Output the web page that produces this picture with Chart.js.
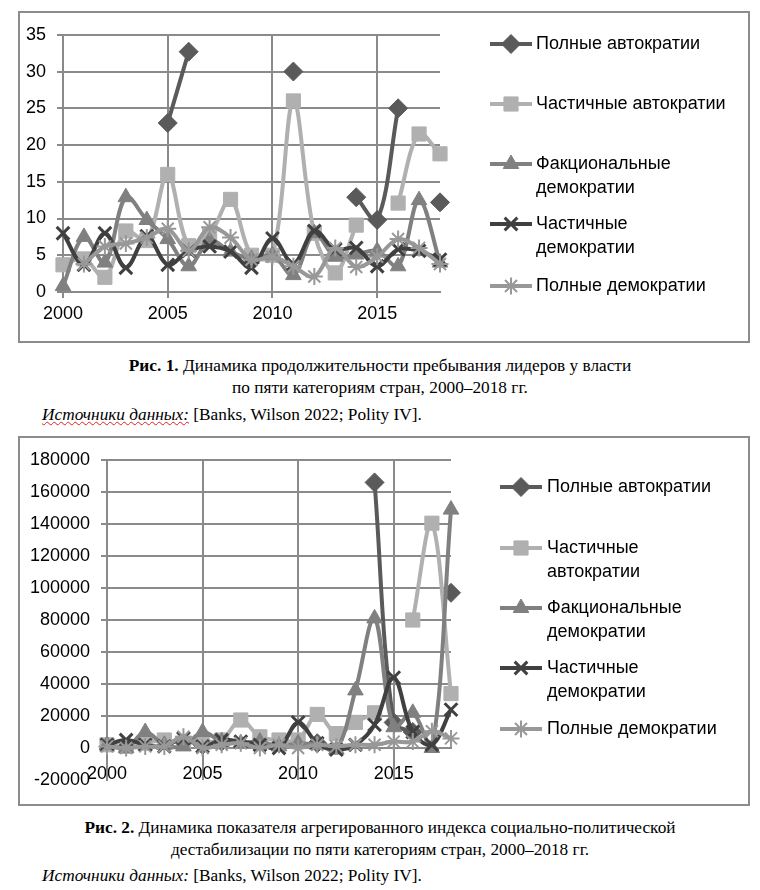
<!DOCTYPE html>
<html lang="ru">
<head>
    <meta charset="UTF-8">
    <title>Рис. 1–2</title>
    <script src="https://cdn.jsdelivr.net/npm/chart.js@4.4.1/dist/chart.umd.min.js"></script>
    <style>
        body { margin: 0; width: 760px; height: 890px; background: #fff; position: relative; font-family: "Liberation Serif", serif; color: #000; }
        .box { position: absolute; left: 18px; width: 728px; border: 2px solid #8c8c8c; }
        #box1 { top: 11px; height: 328px; }
        #box2 { top: 436px; height: 366px; }
        .box canvas { display: block; }
        .caption { position: absolute; left: 0; width: 760px; text-align: center; font-size: 17.3px; line-height: 22px; white-space: nowrap; }
        .source { position: absolute; left: 42px; font-size: 17.3px; line-height: 22px; white-space: nowrap; }
        .spell { text-decoration: underline wavy #e02020; text-decoration-thickness: 1px; }
    </style>
</head>
<body>
    <div class="box" id="box1"><canvas id="chart1" width="728" height="328"></canvas></div>
    <div class="caption" style="top:355px"><b>Рис. 1.</b> Динамика продолжительности пребывания лидеров у власти<br>по пяти категориям стран, 2000–2018 гг.</div>
    <div class="source" style="top:404px"><i class="spell">Источники данных:</i> [Banks, Wilson 2022; Polity IV].</div>

    <div class="box" id="box2"><canvas id="chart2" width="728" height="366"></canvas></div>
    <div class="caption" style="top:817px"><b>Рис. 2.</b> Динамика показателя агрегированного индекса социально-политической<br>дестабилизации по пяти категориям стран, 2000–2018 гг.</div>
    <div class="source" style="top:865px"><i>Источники данных:</i> [Banks, Wilson 2022; Polity IV].</div>

    <script>
        // years on the x axis
        const years = [2000, 2001, 2002, 2003, 2004, 2005, 2006, 2007, 2008, 2009,
                       2010, 2011, 2012, 2013, 2014, 2015, 2016, 2017, 2018];
        const yearTicks = [2000, 2005, 2010, 2015];

        // legend names (split into lines as in the original)
        const names1 = [['Полные автократии'], ['Частичные автократии'], ['Факциональные', 'демократии'],
                        ['Частичные', 'демократии'], ['Полные демократии']];
        const names2 = [['Полные автократии'], ['Частичные', 'автократии'], ['Факциональные', 'демократии'],
                        ['Частичные', 'демократии'], ['Полные демократии']];

        // Fig. 1: leaders' time in power
        const fullAut1 = [null, null, null, null, null, 23, 32.7, null, null, null, null, 30, null, null, 12.9, 9.8, 25, null, 12.2];
        const partAut1 = [3.7, 4.5, 2, 8.3, 7, 16, 6.3, 7.8, 12.6, 5, 5, 26, 8, 2.6, 9.1, null, 12.1, 21.5, 18.8];
        const factDem1 = [0.8, 7.5, 4, 12.9, 9.8, 7.2, 3.5, 7, 5.5, 4.5, 5, 2.3, 8, 4.8, 5.1, 5.6, 3.5, 12.5, 4];
        const partDem1 = [8, 3.7, 8, 3.3, 7.6, 3.7, 5.6, 6.2, 5.5, 3.3, 7.3, 3.8, 8.3, 5.8, 6, 3.5, 5.8, 5.6, 4.4];
        const fullDem1 = [null, 3.8, 6.2, 6.6, 7.4, 8.6, 5.6, 8.8, 7.4, 4.4, 4.8, 3.5, 2.1, 6, 3.4, 4.8, 7.2, 6, 3.8];
        const yTicks1 = { min: 0, max: 35, step: 5 };

        // Fig. 2: aggregated index of socio-political destabilisation
        const fullAut2 = [null, null, null, null, null, 2000, 4000, null, null, null, null, 3000, null, null, 166000, 16000, 10000, null, 97000];
        const partAut2 = [2000, 1000, 3000, 5000, 3000, 4000, 5000, 17500, 7000, 5000, 5000, 21000, 9000, 16000, 22000, null, 80000, 140500, 34000];
        const factDem2 = [2000, 0, 10000, 2000, 1000, 10000, 4000, 3000, 4000, 1000, 3000, 2000, -1000, 36000, 81000, 13000, 22000, 0, 149000];
        const partDem2 = [2000, 5000, 2000, 1000, 6000, 1000, 5000, 4000, 2000, 0, 16000, 3000, -1000, 2000, 14500, 44000, 10000, 2000, 24000];
        const fullDem2 = [1000, 0, 1000, 1000, 7000, 0, 2000, 3000, 0, 2000, 0, 2000, 1000, 2000, 2000, 4000, 4000, 10500, 6000];
        const yTicks2 = { min: -20000, max: 180000, step: 20000 };

        const tickFont = { family: '"Liberation Sans", Arial, sans-serif', size: 18 };
        const gridColor = '#8a8a8a';

        // series look: dark diamond, light square, grey triangle, dark cross, grey star
        const looks = [
            { color: '#5a5a5a', style: 'rectRot', r: 9.5, bw: 1 },
            { color: '#b0b0b0', style: 'rect', r: 10, bw: 1 },
            { color: '#808080', style: 'triangle', r: 9, bw: 1 },
            { color: '#404040', style: 'crossRot', r: 9, bw: 3 },
            { color: '#989898', style: 'star', r: 8.5, bw: 2 }
        ];

        function makeDatasets(series, names) {
            return series.map((values, i) => ({
                label: names[i].join(' '),
                legendLines: names[i],
                data: values,
                borderColor: looks[i].color,
                backgroundColor: looks[i].color,
                borderWidth: 4,
                pointStyle: looks[i].style,
                pointRadius: looks[i].r,
                pointBorderWidth: looks[i].bw,
                pointBackgroundColor: looks[i].color,
                pointBorderColor: looks[i].color,
                tension: 0.35,
                spanGaps: false,
                clip: false,
                order: series.length - i   // later series on top, like the original
            }));
        }

        // legend to the right of the plot, names may wrap to two lines
        const sideLegend = {
            id: 'sideLegend',
            afterDraw(chart, args, opts) {
                const ctx = chart.ctx;
                chart.data.datasets.forEach((ds, i) => {
                    const y = opts.rows[i];
                    ctx.save();
                    ctx.strokeStyle = ds.borderColor;
                    ctx.fillStyle = ds.borderColor;
                    ctx.lineWidth = 4;
                    ctx.beginPath();
                    ctx.moveTo(opts.x, y);
                    ctx.lineTo(opts.x + opts.len, y);
                    ctx.stroke();
                    ctx.lineWidth = ds.pointBorderWidth;
                    Chart.helpers.drawPoint(ctx, {
                        pointStyle: ds.pointStyle, rotation: 0,
                        radius: ds.pointRadius, borderWidth: ds.pointBorderWidth
                    }, opts.x + opts.len / 2, y);
                    ctx.fillStyle = '#000';
                    ctx.font = '18px "Liberation Sans", Arial, sans-serif';
                    ctx.textBaseline = 'middle';
                    ds.legendLines.forEach((line, k) => {
                        ctx.fillText(line, opts.x + opts.len + opts.gap, y + k * 24);
                    });
                    ctx.restore();
                });
            }
        };

        function buildChart(id, series, names, yt, pad, legend, xAtZero) {
            const ctx = document.getElementById(id).getContext('2d');
            return new Chart(ctx, {
                type: 'line',
                data: { labels: years, datasets: makeDatasets(series, names) },
                options: {
                    responsive: false,
                    animation: false,
                    events: [],
                    layout: { padding: pad },
                    plugins: {
                        legend: { display: false },
                        tooltip: { enabled: false },
                        sideLegend: legend
                    },
                    scales: {
                        x: {
                            type: 'linear',
                            min: 2000,
                            max: 2018,
                            position: xAtZero ? { y: 0 } : 'bottom',
                            afterBuildTicks: s => { s.ticks = yearTicks.map(v => ({ value: v })); },
                            ticks: { color: '#000', font: tickFont, padding: xAtZero ? 9 : 5, maxRotation: 0,
                                     callback: v => String(v) },
                            grid: { color: gridColor, lineWidth: 2, tickLength: 6, drawTicks: true },
                            border: { color: gridColor, width: 2 },
                            afterFit: s => { if (!xAtZero) s.height = pad.xHeight; }
                        },
                        y: {
                            min: yt.min,
                            max: yt.max,
                            ticks: { stepSize: yt.step, color: '#000', font: tickFont, padding: 11,
                                     callback: v => String(v) },
                            grid: {
                                lineWidth: 2, tickLength: 6,
                                color: c => (c.tick && c.tick.value < 0) ? 'rgba(0,0,0,0)' : gridColor
                            },
                            border: { color: gridColor, width: 2 },
                            afterFit: s => { s.width = pad.yWidth; }
                        }
                    }
                },
                plugins: [sideLegend]
            });
        }

        buildChart('chart1', [fullAut1, partAut1, factDem1, partDem1, fullDem1], names1, yTicks1,
            { left: 0, top: 21, right: 308, bottom: 0, yWidth: 43, xHeight: 49 },
            { x: 470, len: 42, gap: 4, rows: [31, 91, 151, 211, 273] }, false);

        buildChart('chart2', [fullAut2, partAut2, factDem2, partDem2, fullDem2], names2, yTicks2,
            { left: 0, top: 22, right: 297, bottom: 24, yWidth: 87 },
            { x: 480, len: 42, gap: 5, rows: [49, 110, 170, 230, 291] }, true);
    </script>
</body>
</html>
